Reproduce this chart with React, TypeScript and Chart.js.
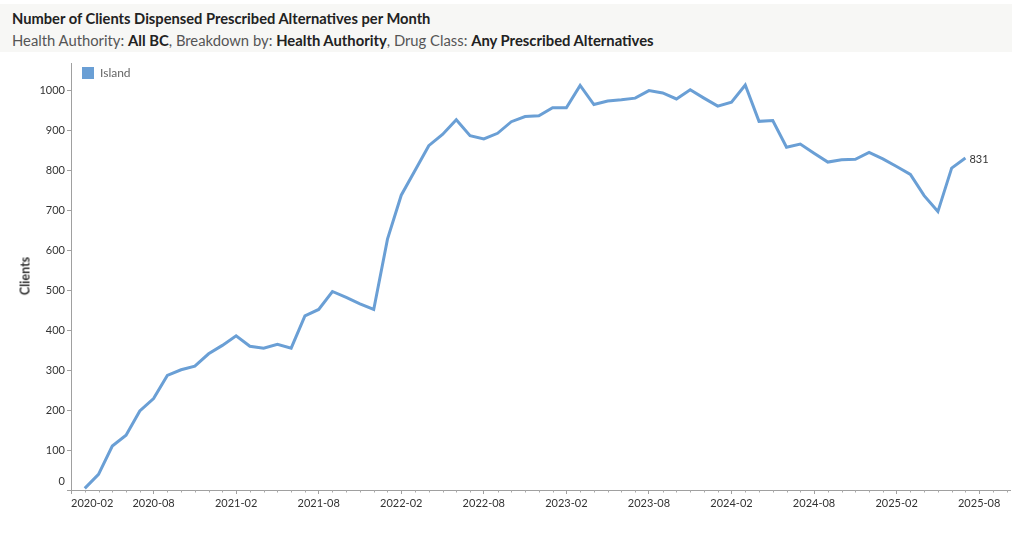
import React, { useEffect, useRef } from 'react';
import { Chart, registerables } from 'chart.js';

Chart.register(...registerables);

const MONTHS = [
  '2020-03', '2020-04', '2020-05', '2020-06', '2020-07', '2020-08', '2020-09', '2020-10', '2020-11', '2020-12',
  '2021-01', '2021-02', '2021-03', '2021-04', '2021-05', '2021-06', '2021-07', '2021-08', '2021-09', '2021-10', '2021-11', '2021-12',
  '2022-01', '2022-02', '2022-03', '2022-04', '2022-05', '2022-06', '2022-07', '2022-08', '2022-09', '2022-10', '2022-11', '2022-12',
  '2023-01', '2023-02', '2023-03', '2023-04', '2023-05', '2023-06', '2023-07', '2023-08', '2023-09', '2023-10', '2023-11', '2023-12',
  '2024-01', '2024-02', '2024-03', '2024-04', '2024-05', '2024-06', '2024-07', '2024-08', '2024-09', '2024-10', '2024-11', '2024-12',
  '2025-01', '2025-02', '2025-03', '2025-04', '2025-05', '2025-06', '2025-07',
];

const ISLAND = [
  4, 39, 110, 137, 198, 229, 287, 301, 310, 341,
  362, 386, 360, 355, 365, 355, 436, 452, 497, 482, 466, 452,
  628, 738, 800, 862, 890, 927, 887, 879, 893, 922, 935, 937,
  957, 957, 1013, 965, 974, 977, 981, 1000, 994, 979, 1002, 981,
  961, 971, 1014, 923, 925, 858, 866, 843, 821, 827, 828, 845,
  829, 810, 790, 737, 697, 806, 831,
];

const X_TICK_LABELS = [
  '2020-02', '2020-08', '2021-02', '2021-08', '2022-02', '2022-08',
  '2023-02', '2023-08', '2024-02', '2024-08', '2025-02', '2025-08',
];

const Y_TICKS = [0, 100, 200, 300, 400, 500, 600, 700, 800, 900, 1000];

const SERIES_NAME = 'Island';
const LINE_COLOR = '#6a9fd5';
const FONT = 'Lato, "Open Sans", sans-serif';
const TICK_FONT = '11px ' + FONT;

const monthIndex = (m: string) => {
  const [y, mo] = m.split('-').map(Number);
  return (y - 2020) * 12 + (mo - 2);
};

const extrasPlugin = {
  id: 'extras',
  afterDatasetsDraw(chart: any) {
    const ctx = chart.ctx;
    const xs = chart.scales.x;
    const ys = chart.scales.y;
    const bottom = chart.chartArea.bottom;
    ctx.save();
    // monthly minor ticks
    ctx.strokeStyle = '#a8a8a8';
    ctx.lineWidth = 1;
    for (let i = Math.ceil(xs.min); i <= xs.max; i++) {
      if (i % 6 === 0) continue;
      const px = Math.round(xs.getPixelForValue(i)) + 0.5;
      ctx.beginPath();
      ctx.moveTo(px, bottom);
      ctx.lineTo(px, bottom + 2.5);
      ctx.stroke();
    }
    ctx.fillStyle = '#333333';
    ctx.font = TICK_FONT;
    // bottom y label kept inside the axis
    ctx.textAlign = 'right';
    ctx.textBaseline = 'middle';
    ctx.fillText(String(Y_TICKS[0]), ys.right - 6, ys.getPixelForValue(Y_TICKS[0]) - 9);
    // first x label left-aligned at the axis start
    ctx.textAlign = 'left';
    ctx.textBaseline = 'top';
    ctx.fillText(X_TICK_LABELS[0], xs.getPixelForValue(monthIndex(X_TICK_LABELS[0])), bottom + 8);
    // end-of-line value label
    const meta = chart.getDatasetMeta(0);
    const last = meta.data[meta.data.length - 1];
    ctx.textBaseline = 'middle';
    ctx.fillText(String(ISLAND[ISLAND.length - 1]), last.x + 4, last.y + 1);
    ctx.restore();
  },
};

export default function App() {
  const canvasRef = useRef<HTMLCanvasElement | null>(null);

  useEffect(() => {
    if (!canvasRef.current) return;
    const data = MONTHS.map((m, i) => ({ x: monthIndex(m), y: ISLAND[i] }));
    const xTickValues = X_TICK_LABELS.map(monthIndex);
    const chart = new Chart(canvasRef.current, {
      type: 'line',
      data: {
        datasets: [
          {
            label: SERIES_NAME,
            data,
            borderColor: LINE_COLOR,
            backgroundColor: LINE_COLOR,
            borderWidth: 3,
            pointRadius: 0,
            tension: 0,
            borderJoinStyle: 'miter',
          },
        ],
      },
      options: {
        animation: false,
        responsive: false,
        maintainAspectRatio: false,
        layout: { padding: { top: 8, right: 14, left: 0, bottom: 0 } },
        plugins: {
          legend: { display: false },
          tooltip: { enabled: false },
        },
        scales: {
          x: {
            type: 'linear',
            min: 0,
            max: 68.24,
            afterBuildTicks: (scale: any) => {
              scale.ticks = xTickValues.map((v) => ({ value: v }));
            },
            afterFit: (scale: any) => {
              scale.height = 43;
            },
            ticks: {
              autoSkip: false,
              maxRotation: 0,
              padding: 3,
              color: '#333333',
              font: { family: FONT, size: 11 },
              callback: (v: any) => {
                const idx = xTickValues.indexOf(Number(v));
                return idx > 0 ? X_TICK_LABELS[idx] : '';
              },
            },
            grid: {
              drawOnChartArea: false,
              drawTicks: true,
              tickLength: 4,
              color: '#a0a0a0',
            },
            border: { display: true, color: '#a0a0a0', width: 1 },
          },
          y: {
            type: 'linear',
            min: 0,
            max: 1067.5,
            afterBuildTicks: (scale: any) => {
              scale.ticks = Y_TICKS.map((v) => ({ value: v }));
            },
            afterFit: (scale: any) => {
              scale.width = 71;
            },
            ticks: {
              padding: 2,
              color: '#333333',
              font: { family: FONT, size: 11 },
              callback: (v: any) => (Number(v) === Y_TICKS[0] ? '' : String(v)),
            },
            grid: {
              drawOnChartArea: false,
              drawTicks: true,
              tickLength: 4,
              color: '#a0a0a0',
            },
            border: { display: true, color: '#a0a0a0', width: 1 },
          },
        },
      },
      plugins: [extrasPlugin],
    });
    return () => chart.destroy();
  }, []);

  return (
    <div style={{ position: 'absolute', left: 0, top: 0, width: 1024, height: 533, background: '#ffffff', fontFamily: FONT, overflow: 'hidden' }}>
      <div style={{ position: 'absolute', left: 0, top: 4, width: 1012, height: 48, background: '#f7f7f5' }}>
        <div style={{ position: 'absolute', left: 12, top: 5, fontSize: 14.7, fontWeight: 700, color: '#222222', whiteSpace: 'nowrap' }}>
          Number of Clients Dispensed Prescribed Alternatives per Month
        </div>
        <div style={{ position: 'absolute', left: 12, top: 27, fontSize: 14.8, color: '#555555', whiteSpace: 'nowrap' }}>
          Health Authority: <b style={{ color: '#222222' }}>All BC</b>, Breakdown by: <b style={{ color: '#222222' }}>Health Authority</b>, Drug Class: <b style={{ color: '#222222' }}>Any Prescribed Alternatives</b>
        </div>
      </div>
      <canvas ref={canvasRef} width={1024} height={478} style={{ position: 'absolute', left: 0, top: 55, width: 1024, height: 478 }} />
      <div style={{ position: 'absolute', left: 82, top: 67, width: 12, height: 12, background: LINE_COLOR }} />
      <div style={{ position: 'absolute', left: 100, top: 65, fontSize: 12, color: '#666666', lineHeight: '16px' }}>{SERIES_NAME}</div>
      <div style={{ position: 'absolute', left: 25, top: 276, transform: 'translate(-50%, -50%) rotate(-90deg)', fontSize: 12.5, fontWeight: 700, color: '#333333', whiteSpace: 'nowrap' }}>
        Clients
      </div>
    </div>
  );
}
